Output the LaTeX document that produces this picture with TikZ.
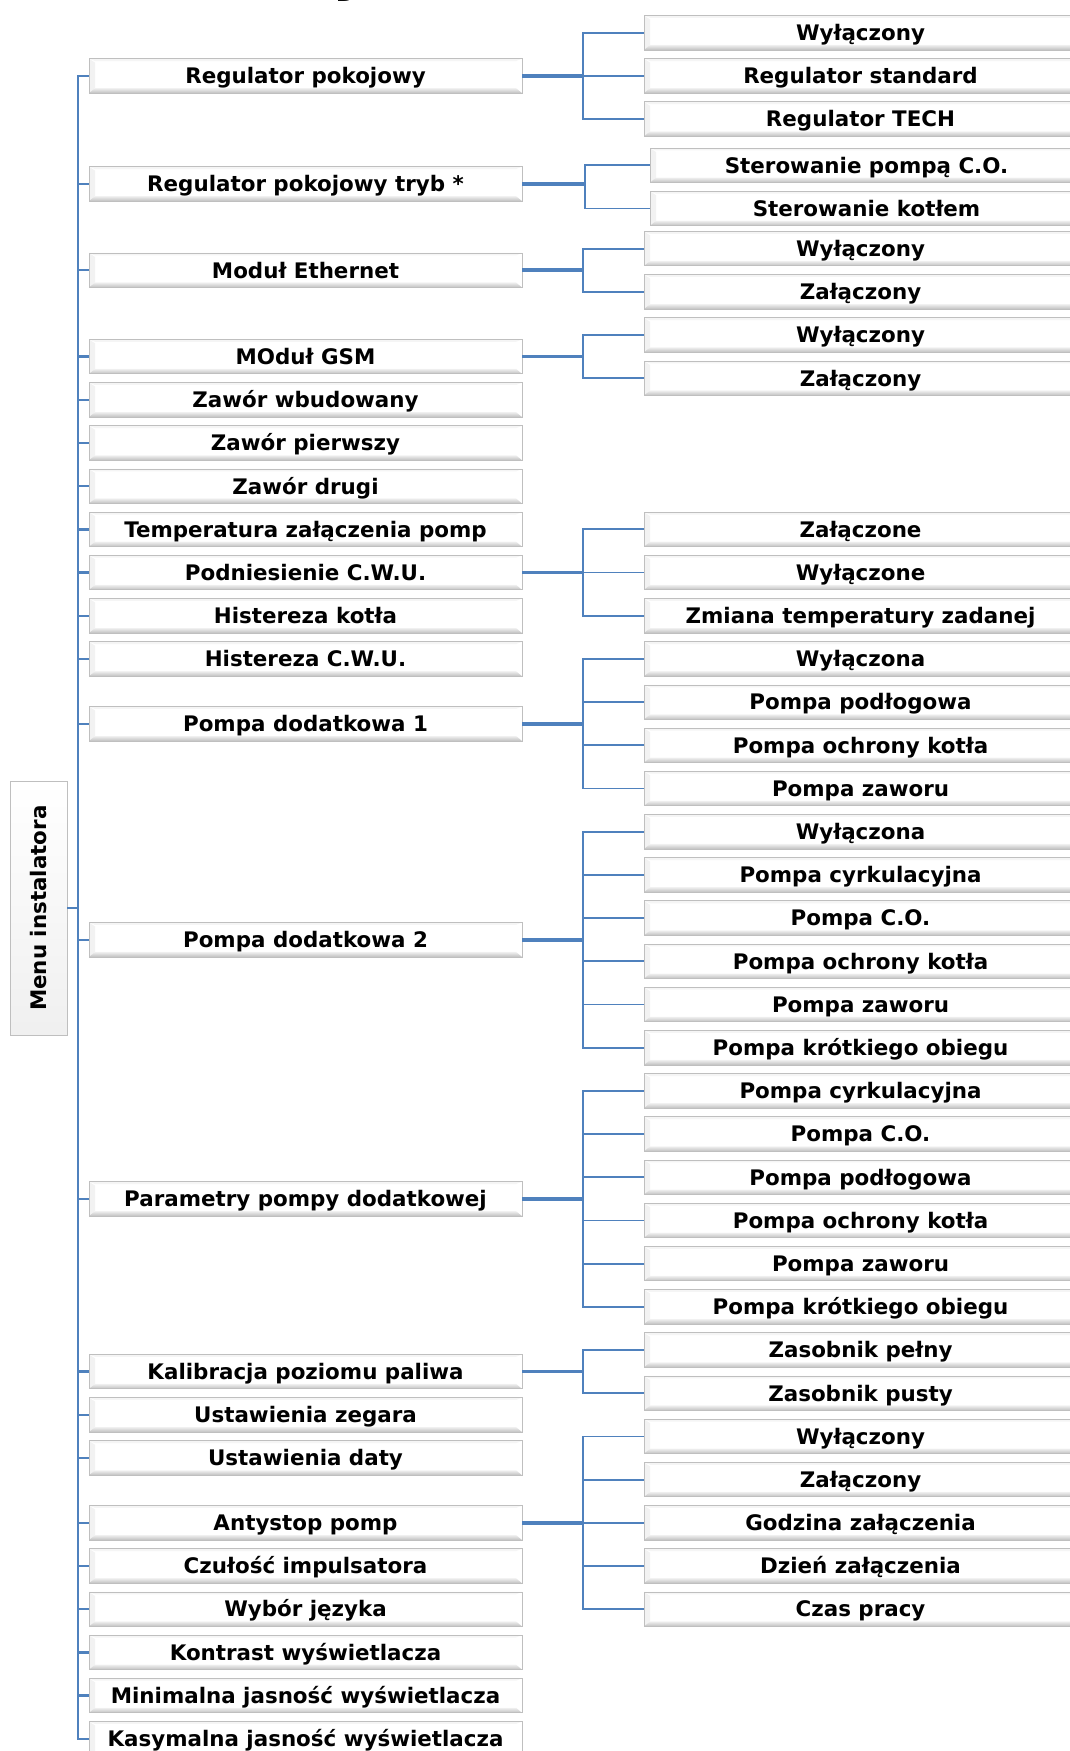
\documentclass[tikz,border=0pt]{standalone}
\usepackage{fontspec}
\setmainfont{DejaVu Sans}
\usepackage{tikz}
\usetikzlibrary{calc}

\definecolor{linkblue}{RGB}{79,129,189}

\tikzset{
  item/.style={draw=gray!50, fill=white,
    minimum width=216.5pt, minimum height=17.25pt, inner sep=0pt,
    text height=8.3pt, text depth=0.5pt,
    font=\fontsize{10.7}{12}\selectfont\bfseries,
    path picture={
      \fill [gray!10] (path picture bounding box.north west)
        -- ([shift={(3pt,-2pt)}]path picture bounding box.north west)
        -- ([shift={(3pt,2.5pt)}]path picture bounding box.south west)
        -- (path picture bounding box.south west) -- cycle;
      \shade [top color=gray!12, bottom color=gray!50] (path picture bounding box.south west)
        -- ([shift={(3pt,2.5pt)}]path picture bounding box.south west)
        -- ([shift={(-3pt,2.5pt)}]path picture bounding box.south east)
        -- (path picture bounding box.south east) -- cycle;
      \fill [gray!8] (path picture bounding box.north west)
        -- (path picture bounding box.north east)
        -- ([shift={(-3pt,-1.2pt)}]path picture bounding box.north east)
        -- ([shift={(3pt,-1.2pt)}]path picture bounding box.north west) -- cycle;
    }},
  menubox/.style={draw=gray!50, top color=white, bottom color=gray!12,
    minimum width=127pt, minimum height=28.5pt, inner sep=0pt,
    text height=8.3pt, text depth=0.5pt,
    font=\fontsize{10.7}{12}\selectfont\bfseries},
  link/.style={draw=linkblue, line width=0.9pt},
  thicklink/.style={draw=linkblue, line width=1.8pt},
}

\begin{document}
\begin{tikzpicture}[x=0.5pt,y=-21.595pt]
  \useasboundingbox (0,-0.7571) rectangle (1069,39.784);

  % cut title
  \node [anchor=base, font=\fontsize{30}{30}\selectfont\bfseries, inner sep=0] (ttl) at (352,-1.0118) {y};

  % menu
  \node [menubox, rotate=90] (menu) at (38.5,20.27) {Menu instalatora};
  \coordinate (trunk) at (78,20.27);

  % first level
  \node [item] (l1) at (305.5,1) {Regulator pokojowy};
  \node [item] (l2) at (305.5,3.5) {Regulator pokojowy tryb *};
  \node [item] (l3) at (305.5,5.5) {Moduł Ethernet};
  \node [item] (l4) at (305.5,7.5) {MOduł GSM};
  \node [item] (l5) at (305.5,8.5) {Zawór wbudowany};
  \node [item] (l6) at (305.5,9.5) {Zawór pierwszy};
  \node [item] (l7) at (305.5,10.5) {Zawór drugi};
  \node [item] (l8) at (305.5,11.5) {Temperatura załączenia pomp};
  \node [item] (l9) at (305.5,12.5) {Podniesienie C.W.U.};
  \node [item] (l10) at (305.5,13.5) {Histereza kotła};
  \node [item] (l11) at (305.5,14.5) {Histereza C.W.U.};
  \node [item] (l12) at (305.5,16) {Pompa dodatkowa 1};
  \node [item] (l13) at (305.5,21) {Pompa dodatkowa 2};
  \node [item] (l14) at (305.5,27) {Parametry pompy dodatkowej};
  \node [item] (l15) at (305.5,31) {Kalibracja poziomu paliwa};
  \node [item] (l16) at (305.5,32) {Ustawienia zegara};
  \node [item] (l17) at (305.5,33) {Ustawienia daty};
  \node [item] (l18) at (305.5,34.5) {Antystop pomp};
  \node [item] (l19) at (305.5,35.5) {Czułość impulsatora};
  \node [item] (l20) at (305.5,36.5) {Wybór języka};
  \node [item] (l21) at (305.5,37.5) {Kontrast wyświetlacza};
  \node [item] (l22) at (305.5,38.5) {Minimalna jasność wyświetlacza};
  \node [item] (l23) at (305.5,39.5) {Kasymalna jasność wyświetlacza};

  % second level
  \node [item] (a1) at (860.5,0) {Wyłączony};
  \node [item] (a2) at (860.5,1) {Regulator standard};
  \node [item] (a3) at (860.5,2) {Regulator TECH};
  \node [item] (b1) at (866.5,3.07) {Sterowanie pompą C.O.};
  \node [item] (b2) at (866.5,4.07) {Sterowanie kotłem};
  \node [item] (c1) at (860.5,5) {Wyłączony};
  \node [item] (c2) at (860.5,6) {Załączony};
  \node [item] (d1) at (860.5,7) {Wyłączony};
  \node [item] (d2) at (860.5,8) {Załączony};
  \node [item] (e1) at (860.5,11.5) {Załączone};
  \node [item] (e2) at (860.5,12.5) {Wyłączone};
  \node [item] (e3) at (860.5,13.5) {Zmiana temperatury zadanej};
  \node [item] (f1) at (860.5,14.5) {Wyłączona};
  \node [item] (f2) at (860.5,15.5) {Pompa podłogowa};
  \node [item] (f3) at (860.5,16.5) {Pompa ochrony kotła};
  \node [item] (f4) at (860.5,17.5) {Pompa zaworu};
  \node [item] (g1) at (860.5,18.5) {Wyłączona};
  \node [item] (g2) at (860.5,19.5) {Pompa cyrkulacyjna};
  \node [item] (g3) at (860.5,20.5) {Pompa C.O.};
  \node [item] (g4) at (860.5,21.5) {Pompa ochrony kotła};
  \node [item] (g5) at (860.5,22.5) {Pompa zaworu};
  \node [item] (g6) at (860.5,23.5) {Pompa krótkiego obiegu};
  \node [item] (h1) at (860.5,24.5) {Pompa cyrkulacyjna};
  \node [item] (h2) at (860.5,25.5) {Pompa C.O.};
  \node [item] (h3) at (860.5,26.5) {Pompa podłogowa};
  \node [item] (h4) at (860.5,27.5) {Pompa ochrony kotła};
  \node [item] (h5) at (860.5,28.5) {Pompa zaworu};
  \node [item] (h6) at (860.5,29.5) {Pompa krótkiego obiegu};
  \node [item] (i1) at (860.5,30.5) {Zasobnik pełny};
  \node [item] (i2) at (860.5,31.5) {Zasobnik pusty};
  \node [item] (j1) at (860.5,32.5) {Wyłączony};
  \node [item] (j2) at (860.5,33.5) {Załączony};
  \node [item] (j3) at (860.5,34.5) {Godzina załączenia};
  \node [item] (j4) at (860.5,35.5) {Dzień załączenia};
  \node [item] (j5) at (860.5,36.5) {Czas pracy};

  % trunk
  \draw [link, line width=1.2pt] (menu.south) -- (trunk);
  \foreach \n in {1,...,23}
    \draw [link, line width=1.2pt] (trunk) |- (l\n.west);

  % brackets
  \coordinate (ka) at (583,1);
  \coordinate (kb) at (585,3.5);
  \coordinate (kc) at (583,5.5);
  \coordinate (kd) at (583,7.5);
  \coordinate (ke) at (583,12.5);
  \coordinate (kf) at (583,16);
  \coordinate (kg) at (583,21);
  \coordinate (kh) at (583,27);
  \coordinate (ki) at (583,31);
  \coordinate (kj) at (583,34.5);

  \draw [thicklink] (l1.east) -- (ka);
  \draw [thicklink] (l2.east) -- (kb);
  \draw [thicklink] (l3.east) -- (kc);
  \draw [thicklink] (l4.east) -- (kd);
  \draw [thicklink] (l9.east) -- (ke);
  \draw [thicklink] (l12.east) -- (kf);
  \draw [thicklink] (l13.east) -- (kg);
  \draw [thicklink] (l14.east) -- (kh);
  \draw [thicklink] (l15.east) -- (ki);
  \draw [thicklink] (l18.east) -- (kj);

  \foreach \g/\m in {a/3, b/2, c/2, d/2, e/3, f/4, g/6, h/6, i/2, j/5}
    \foreach \n in {1,...,\m}
      \draw [link] (k\g) |- (\g\n.west);
\end{tikzpicture}
\end{document}
